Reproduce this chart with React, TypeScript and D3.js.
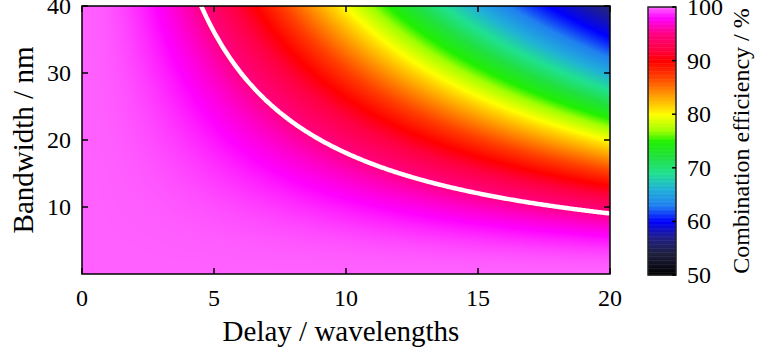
import React, { useMemo } from "react";
import * as d3 from "d3";

// ---- data / model parameters ----
const delayDomain = [0, 20]; // wavelengths
const bandwidthDomain = [0, 40]; // nm
const centreWavelengthNm = 1050; // sets the 95 % contour at delay*bandwidth ≈ 180
const contourLevel = 95; // %
const xTicks = [0, 5, 10, 15, 20];
const yTicks = [10, 20, 30, 40];
const cbTicks = [50, 60, 70, 80, 90, 100];
const cbDomain = [50, 100];
const cmapValues = [50, 54, 57, 60, 63, 66, 69, 72, 75, 77, 80, 81, 84, 87, 90, 92, 95, 98, 100];
const cmapColors = [
  "#000000", "#202040", "#202088", "#0000ff", "#2080f0", "#20b0d8", "#20e090", "#20e040",
  "#20f000", "#a0ff00", "#ffff00", "#ffe000", "#ff9000", "#ff4000", "#ff0000", "#ff0040",
  "#ff0080", "#ff00ff", "#ff60ff",
];
const xLabel = "Delay / wavelengths";
const yLabel = "Bandwidth / nm";
const cbLabel = "Combination efficiency / %";

// combination efficiency of two delayed copies of a Gaussian-spectrum pulse
function efficiency(delay: number, bw: number): number {
  const x = (Math.PI * delay * bw) / centreWavelengthNm;
  const gamma = Math.exp(-(x * x) / (4 * Math.LN2));
  return 50 * (1 + gamma);
}

const W = 759;
const H = 360;
const PX0 = 82, PX1 = 610, PY0 = 6, PY1 = 274;
const CBX0 = 648, CBX1 = 676, CBY0 = 7, CBY1 = 275;
const FONT = "Liberation Serif, Tinos, Times New Roman, serif";
const tf = { fontFamily: FONT };

export default function App() {
  const xScale = d3.scaleLinear().domain(delayDomain).range([PX0, PX1]);
  const yScale = d3.scaleLinear().domain(bandwidthDomain).range([PY1, PY0]);
  const cbScale = d3.scaleLinear().domain(cbDomain).range([CBY1, CBY0]);
  const cmap = d3
    .scaleLinear<string>()
    .domain(cmapValues)
    .range(cmapColors)
    .interpolate(d3.interpolateRgb)
    .clamp(true);

  const heatUrl = useMemo(() => {
    const w = PX1 - PX0;
    const h = PY1 - PY0;
    const canvas = document.createElement("canvas");
    canvas.width = w;
    canvas.height = h;
    const ctx = canvas.getContext("2d");
    if (!ctx) return "";
    const img = ctx.createImageData(w, h);
    for (let j = 0; j < h; j++) {
      const b = yScale.invert(PY0 + j + 0.5);
      for (let i = 0; i < w; i++) {
        const d = xScale.invert(PX0 + i + 0.5);
        const c = d3.rgb(cmap(efficiency(d, b)));
        const k = (j * w + i) * 4;
        img.data[k] = c.r;
        img.data[k + 1] = c.g;
        img.data[k + 2] = c.b;
        img.data[k + 3] = 255;
      }
    }
    ctx.putImageData(img, 0, 0);
    return canvas.toDataURL();
  }, []);

  // 95 % contour: solve efficiency(d, b) = level for b along delay
  const contourPath = useMemo(() => {
    const g = contourLevel / 50 - 1;
    const x = Math.sqrt(-4 * Math.LN2 * Math.log(g));
    const prod = (x * centreWavelengthNm) / Math.PI;
    const dStart = prod / bandwidthDomain[1];
    const pts: [number, number][] = d3
      .range(dStart, delayDomain[1] + 1e-9, 0.05)
      .map((d) => [d, prod / d]);
    pts.push([delayDomain[1], prod / delayDomain[1]]);
    return d3
      .line<[number, number]>()
      .x((p) => xScale(p[0]))
      .y((p) => yScale(p[1]))(pts) as string;
  }, []);

  const cbSteps = d3.range(cbDomain[0], cbDomain[1], 0.25);
  const tickLen = 6;

  return (
    <svg width={W} height={H} style={{ position: "absolute", left: 0, top: 0, background: "#fff" }}>
      <defs>
        <clipPath id="plotclip">
          <rect x={PX0} y={PY0} width={PX1 - PX0} height={PY1 - PY0} />
        </clipPath>
      </defs>
      <image href={heatUrl} x={PX0} y={PY0} width={PX1 - PX0} height={PY1 - PY0} preserveAspectRatio="none" />
      <path d={contourPath} fill="none" stroke="#fff" strokeWidth={4.5} clipPath="url(#plotclip)" />
      <rect x={PX0} y={PY0} width={PX1 - PX0} height={PY1 - PY0} fill="none" stroke="#000" strokeWidth={1.5} />
      {xTicks.map((t) => (
        <g key={"x" + t}>
          <line x1={xScale(t)} x2={xScale(t)} y1={PY1} y2={PY1 - tickLen} stroke="#000" strokeWidth={1.5} />
          <line x1={xScale(t)} x2={xScale(t)} y1={PY0} y2={PY0 + tickLen} stroke="#000" strokeWidth={1.5} />
          <text x={xScale(t)} y={306} textAnchor="middle" style={tf} fontSize={24}>
            {t}
          </text>
        </g>
      ))}
      {yTicks.map((t) => (
        <g key={"y" + t}>
          <line x1={PX0} x2={PX0 + tickLen} y1={yScale(t)} y2={yScale(t)} stroke="#000" strokeWidth={1.5} />
          <line x1={PX1} x2={PX1 - tickLen} y1={yScale(t)} y2={yScale(t)} stroke="#000" strokeWidth={1.5} />
          <text x={71} y={yScale(t) + 8} textAnchor="end" style={tf} fontSize={24}>
            {t}
          </text>
        </g>
      ))}
      <text x={341} y={341} textAnchor="middle" style={tf} fontSize={29}>
        {xLabel}
      </text>
      <text
        transform={`translate(33,${(PY0 + PY1) / 2}) rotate(-90)`}
        textAnchor="middle"
        style={tf}
        fontSize={29}
      >
        {yLabel}
      </text>

      {/* colour bar */}
      {cbSteps.map((v) => (
        <rect
          key={"cb" + v}
          x={CBX0}
          width={CBX1 - CBX0}
          y={cbScale(v + 0.25)}
          height={cbScale(v) - cbScale(v + 0.25) + 0.5}
          fill={cmap(v + 0.125)}
        />
      ))}
      <rect x={CBX0} y={CBY0} width={CBX1 - CBX0} height={CBY1 - CBY0} fill="none" stroke="#222" strokeWidth={1.5} />
      {cbTicks.map((t) => (
        <g key={"c" + t}>
          <line x1={CBX1} x2={CBX1 - 4} y1={cbScale(t)} y2={cbScale(t)} stroke="#000" strokeWidth={1.5} />
          <text x={687} y={cbScale(t) + 8} textAnchor="start" style={tf} fontSize={24}>
            {t}
          </text>
        </g>
      ))}
      <text
        transform={`translate(749,${(CBY0 + CBY1) / 2}) rotate(-90)`}
        textAnchor="middle"
        style={tf}
        fontSize={24}
      >
        {cbLabel}
      </text>
    </svg>
  );
}
